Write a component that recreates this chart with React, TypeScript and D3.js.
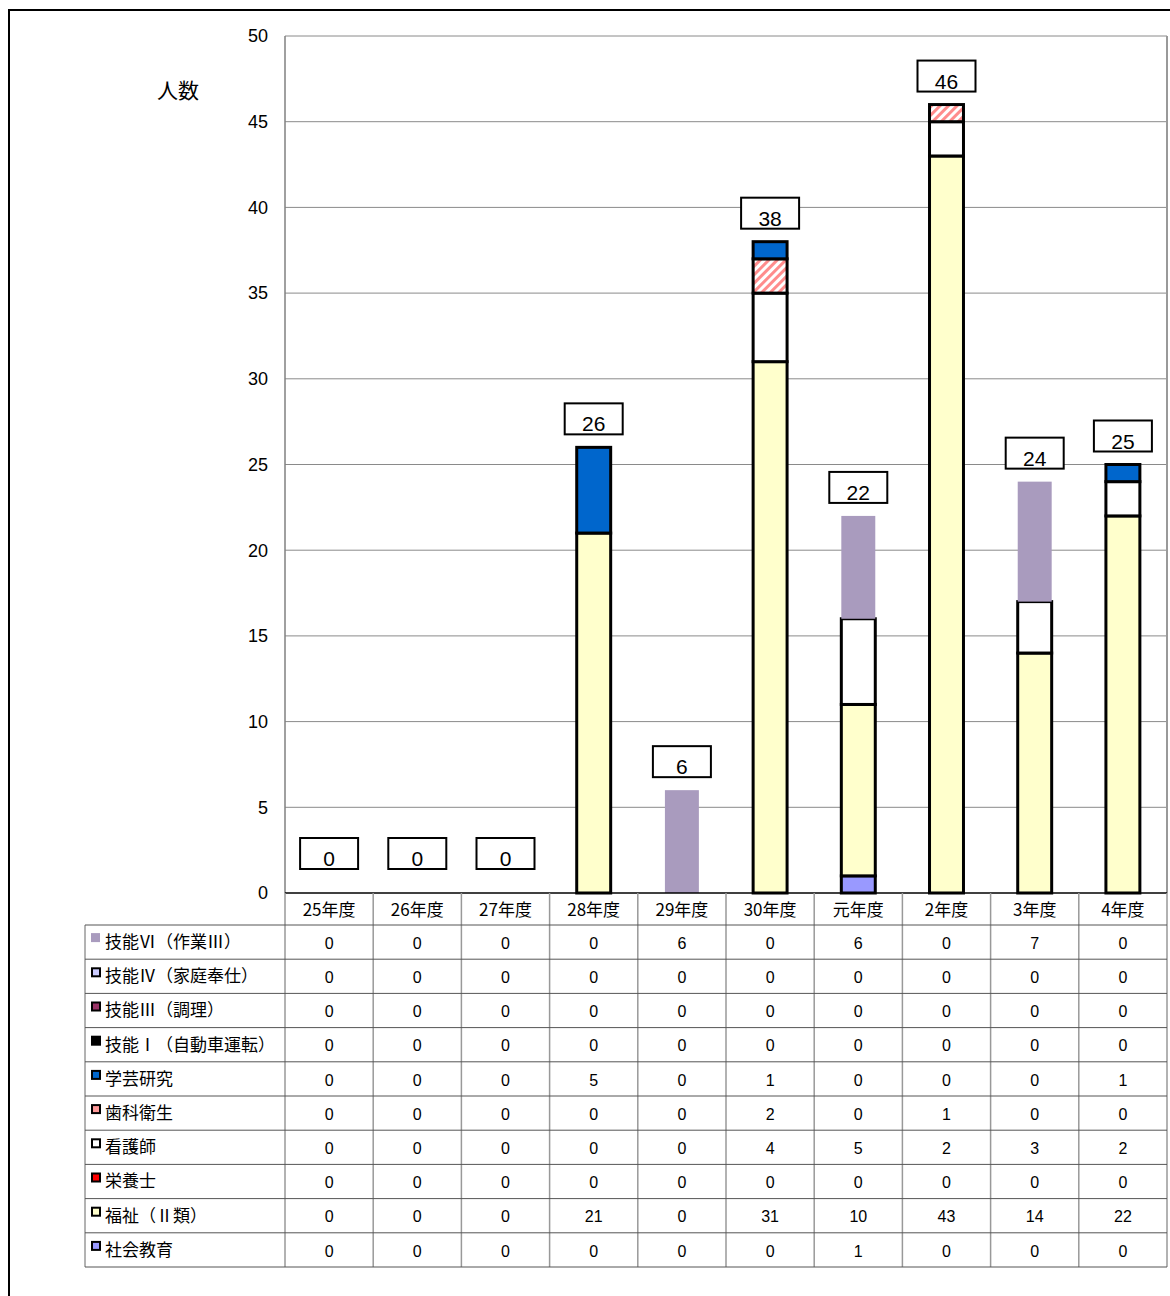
import React from "react";
import * as d3 from "d3";

const categories = ["25年度", "26年度", "27年度", "28年度", "29年度", "30年度", "元年度", "2年度", "3年度", "4年度"];

// table order (top row first)
const seriesNames = ["技能Ⅵ（作業Ⅲ）", "技能Ⅳ（家庭奉仕）", "技能Ⅲ（調理）", "技能Ⅰ（自動車運転）", "学芸研究", "歯科衛生", "看護師", "栄養士", "福祉（Ⅱ類）", "社会教育"];

const ginou6 = [0, 0, 0, 0, 6, 0, 6, 0, 7, 0];
const ginou4 = [0, 0, 0, 0, 0, 0, 0, 0, 0, 0];
const ginou3 = [0, 0, 0, 0, 0, 0, 0, 0, 0, 0];
const ginou1 = [0, 0, 0, 0, 0, 0, 0, 0, 0, 0];
const gakugei = [0, 0, 0, 5, 0, 1, 0, 0, 0, 1];
const shika = [0, 0, 0, 0, 0, 2, 0, 1, 0, 0];
const kango = [0, 0, 0, 0, 0, 4, 5, 2, 3, 2];
const eiyou = [0, 0, 0, 0, 0, 0, 0, 0, 0, 0];
const fukushi = [0, 0, 0, 21, 0, 31, 10, 43, 14, 22];
const shakai = [0, 0, 0, 0, 0, 0, 1, 0, 0, 0];

const seriesValues = [ginou6, ginou4, ginou3, ginou1, gakugei, shika, kango, eiyou, fukushi, shakai];

const yTicks = [0, 5, 10, 15, 20, 25, 30, 35, 40, 45, 50];

const fills: Record<string, string> = {
  "技能Ⅵ（作業Ⅲ）": "#A99BBE",
  "技能Ⅳ（家庭奉仕）": "#CCCCFF",
  "技能Ⅲ（調理）": "#993366",
  "技能Ⅰ（自動車運転）": "#000000",
  "学芸研究": "#0066CC",
  "歯科衛生": "url(#hatch)",
  "看護師": "#FFFFFF",
  "栄養士": "#FF0000",
  "福祉（Ⅱ類）": "#FFFFCC",
  "社会教育": "#9999FF",
};
const noStroke = new Set(["技能Ⅵ（作業Ⅲ）"]);

const JP = "'Noto Sans CJK JP', 'Noto Sans', sans-serif";
const NUM = "'Liberation Sans', Arial, sans-serif";

export default function App() {
  const W = 1170, H = 1296;
  const plotL = 285, plotR = 1167, plotT = 36, plotB = 893;
  const tableL = 85;
  const headerB = 925;
  const rowH = 34.2;

  const x = d3.scaleBand<string>().domain(categories).range([plotL, plotR]).padding(0);
  const y = d3.scaleLinear().domain([0, 50]).range([plotB, plotT]);
  const barW = x.bandwidth() * 0.385;

  const rows = categories.map((c, i) => {
    const o: Record<string, any> = { cat: c };
    seriesNames.forEach((s, k) => (o[s] = seriesValues[k][i]));
    return o;
  });
  const stackKeys = [...seriesNames].reverse();
  const stacked = d3.stack<any>().keys(stackKeys)(rows);
  const totals = categories.map((_, i) => d3.sum(seriesValues, (v) => v[i]));

  return (
    <svg width={W} height={H} style={{ position: "absolute", left: 0, top: 0, background: "#fff" }}>
      <defs>
        <pattern id="hatch" patternUnits="userSpaceOnUse" width="6" height="6" patternTransform="rotate(45)">
          <rect width="6" height="6" fill="#FFFFFF" />
          <rect width="3" height="6" fill="#FF8C8C" />
        </pattern>
      </defs>
      {/* outer frame */}
      <line x1={8} x2={W} y1={10} y2={10} stroke="#000" strokeWidth={2} />
      <line x1={9} x2={9} y1={10} y2={H} stroke="#000" strokeWidth={2} />

      {/* grid */}
      {yTicks.map((t) => (
        <g key={t}>
          {t > 0 && <line x1={plotL} x2={plotR} y1={y(t)} y2={y(t)} stroke="#8a8a8a" strokeWidth={1} />}
          <text x={268} y={y(t)} dy="0.35em" textAnchor="end" fontFamily={NUM} fontSize={18} fill="#000">{t}</text>
        </g>
      ))}
      <line x1={plotL} x2={plotL} y1={plotT} y2={plotB} stroke="#808080" strokeWidth={1.5} />
      <line x1={plotR} x2={plotR} y1={plotT} y2={plotB} stroke="#999" strokeWidth={2} />
      <text x={178} y={91} dy="0.35em" textAnchor="middle" fontFamily={JP} fontSize={21} fill="#000">人数</text>

      {/* bars */}
      {stacked.map((layer) => (
        <g key={layer.key}>
          {layer.map((d, i) => {
            const v = d[1] - d[0];
            if (v <= 0) return null;
            const cx = (x(categories[i]) as number) + x.bandwidth() / 2;
            const s = !noStroke.has(layer.key);
            return (
              <rect key={i} x={cx - barW / 2} y={y(d[1])} width={barW} height={y(d[0]) - y(d[1])}
                fill={fills[layer.key]} stroke={s ? "#000" : "none"} strokeWidth={s ? 3 : 0} />
            );
          })}
        </g>
      ))}

      {/* axis line */}
      <line x1={plotL} x2={plotR} y1={plotB} y2={plotB} stroke="#000" strokeWidth={1.5} />

      {/* total labels */}
      {totals.map((t, i) => {
        const cx = (x(categories[i]) as number) + x.bandwidth() / 2;
        const bottom = y(t) - (t === 0 ? 24 : 13);
        return (
          <g key={i}>
            <rect x={cx - 29} y={bottom - 31} width={58} height={31} fill="#fff" stroke="#000" strokeWidth={2} />
            <text x={cx} y={bottom - 3} textAnchor="middle" fontFamily={NUM} fontSize={21} fill="#000">{t}</text>
          </g>
        );
      })}

      {/* data table */}
      {categories.map((c, i) => (
        <line key={c} x1={x(c)} x2={x(c)} y1={plotB} y2={headerB + rowH * seriesNames.length} stroke="#999" strokeWidth={1.5} />
      ))}
      <line x1={plotR} x2={plotR} y1={plotB} y2={headerB + rowH * seriesNames.length} stroke="#999" strokeWidth={1.5} />
      <line x1={tableL} x2={tableL} y1={headerB} y2={headerB + rowH * seriesNames.length} stroke="#666" strokeWidth={1} />
      {d3.range(seriesNames.length + 1).map((k) => (
        <line key={k} x1={tableL} x2={plotR} y1={headerB + rowH * k} y2={headerB + rowH * k} stroke="#555" strokeWidth={1} />
      ))}
      {categories.map((c) => (
        <text key={c} x={(x(c) as number) + x.bandwidth() / 2} y={(plotB + headerB) / 2 + 1} dy="0.35em" textAnchor="middle" fontFamily={JP} fontSize={17} fill="#000">{c}</text>
      ))}
      {seriesNames.map((s, k) => {
        const cy = headerB + rowH * (k + 0.5);
        const st = !noStroke.has(s);
        return (
          <g key={s}>
            <rect x={st ? 92 : 91} y={cy - (st ? 8 : 9)} width={st ? 8 : 9} height={st ? 8 : 9}
              fill={s === "歯科衛生" ? "#FF9999" : fills[s]} stroke={st ? "#000" : "none"} strokeWidth={2} />
            <text x={105} y={cy} dy="0.35em" fontFamily={JP} fontSize={17} fill="#000">{s}</text>
            {seriesValues[k].map((v, i) => (
              <text key={i} x={(x(categories[i]) as number) + x.bandwidth() / 2} y={cy + 1} dy="0.35em" textAnchor="middle" fontFamily={NUM} fontSize={16} fill="#000">{v}</text>
            ))}
          </g>
        );
      })}
    </svg>
  );
}
